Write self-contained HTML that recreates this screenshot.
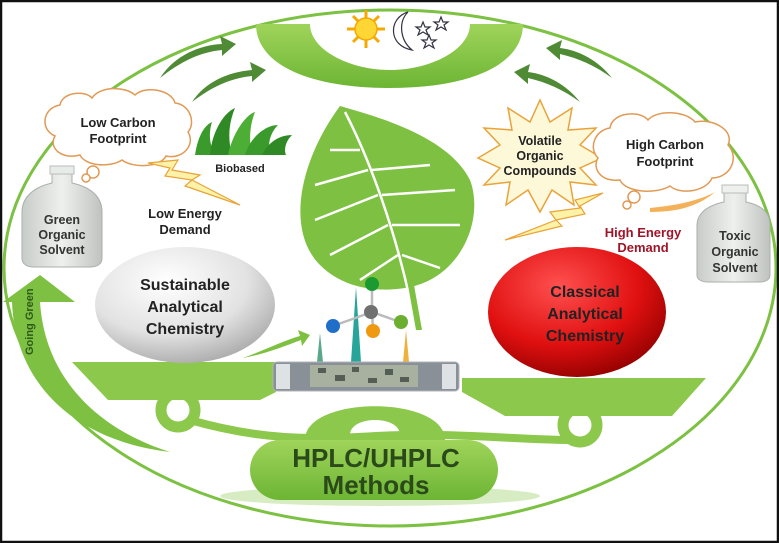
<!DOCTYPE html>
<html><head><meta charset="utf-8"><style>
html,body{margin:0;padding:0;background:#fff}
svg{display:block}
text{font-family:"Liberation Sans",sans-serif;font-weight:bold}
</style></head><body>
<svg width="779" height="543" viewBox="0 0 779 543" xmlns="http://www.w3.org/2000/svg">
<defs>
<radialGradient id="ws" cx="0.4" cy="0.3" r="0.75"><stop offset="0" stop-color="#ffffff"/><stop offset="0.6" stop-color="#e2e2e2"/><stop offset="1" stop-color="#a8a8a8"/></radialGradient>
<radialGradient id="rs" cx="0.4" cy="0.3" r="0.75"><stop offset="0" stop-color="#ff5050"/><stop offset="0.6" stop-color="#e01010"/><stop offset="1" stop-color="#900000"/></radialGradient>
<linearGradient id="gr" x1="0" y1="0" x2="0" y2="1"><stop offset="0" stop-color="#9fd45a"/><stop offset="1" stop-color="#6db534"/></linearGradient>
<linearGradient id="bt" x1="0" y1="0" x2="1" y2="0"><stop offset="0" stop-color="#c8ccc8"/><stop offset="0.5" stop-color="#eef0ee"/><stop offset="1" stop-color="#bfc3bf"/></linearGradient>
</defs>
<rect x="0" y="0" width="779" height="543" fill="#fff"/>
<!-- big ellipse -->
<ellipse cx="390" cy="268" rx="386" ry="258" fill="none" stroke="#7cc142" stroke-width="3"/>
<!-- top bowl -->
<path d="M256 24 L523 24 C523 65 470 88 390 88 C310 88 256 65 256 24 Z M310 24 C310 50 350 70 390 70 C430 70 470 50 470 24 Z" fill="url(#gr)" fill-rule="evenodd"/>
<!-- sun -->
<g transform="translate(366,29)">
<g stroke="#f5a800" stroke-width="3">
<line x1="-19" y1="0" x2="19" y2="0"/><line x1="0" y1="-19" x2="0" y2="19"/><line x1="-13" y1="-13" x2="13" y2="13"/><line x1="-13" y1="13" x2="13" y2="-13"/></g>
<circle r="11" fill="#ffd633" stroke="#f5a800" stroke-width="1.5"/></g>
<path d="M408 12 C388 18 388 46 412 50 C400 40 398 22 408 12 Z" fill="#fff" stroke="#334" stroke-width="1.2"/>
<g fill="none" stroke="#334" stroke-width="1.2">
<polygon points="423,22 425,27 430,27 426,30 428,35 423,32 418,35 420,30 416,27 421,27"/>
<polygon points="441,17 443,22 448,22 444,25 446,30 441,27 436,30 438,25 434,22 439,22"/>
<polygon points="429,35 431,40 436,40 432,43 434,48 429,45 424,48 426,43 422,40 427,40"/>
</g>
<!-- dark arrows -->
<g fill="#4f8a35">
<path d="M160 78 C175 55 200 45 222 44 L220 36 L236 44 L222 56 L222 50 C200 52 180 62 160 78 Z"/>
<path d="M192 102 C205 82 228 72 252 70 L250 62 L266 70 L252 82 L252 76 C230 78 210 88 192 102 Z"/>
<path d="M612 78 C598 60 578 50 560 48 L562 40 L546 48 L560 60 L560 54 C578 58 596 66 612 78 Z"/>
<path d="M580 102 C566 84 546 74 528 72 L530 64 L514 72 L528 84 L528 78 C546 82 564 90 580 102 Z"/>
</g>
<!-- low carbon cloud -->
<path d="M60 105 C62 92 85 90 92 98 C100 86 125 86 135 95 C145 85 172 90 175 103 C192 105 195 125 188 132 C196 145 182 160 166 156 C160 168 132 168 122 160 C110 168 85 166 80 155 C62 160 48 148 55 136 C40 130 42 108 60 105 Z" fill="#fff" stroke="#e09a55" stroke-width="1.5"/>
<circle cx="93" cy="172" r="6" fill="#fff" stroke="#e09a55" stroke-width="1.5"/>
<circle cx="86" cy="178" r="4" fill="#fff" stroke="#e09a55" stroke-width="1.5"/>
<text x="118" y="127" font-size="13" text-anchor="middle" fill="#222">Low Carbon</text>
<text x="118" y="143" font-size="13" text-anchor="middle" fill="#222">Footprint</text>
<!-- grass -->
<g fill="#3b9a2c">
<path d="M195 155 C198 135 205 125 212 122 C208 135 210 145 215 155 Z"/>
<path d="M210 155 C212 130 225 112 235 108 C228 125 228 140 232 155 Z" fill="#2f8a25"/>
<path d="M228 155 C232 135 245 115 255 112 C248 130 250 145 252 155 Z" fill="#4cae35"/>
<path d="M245 155 C250 138 265 125 278 125 C268 135 268 148 270 155 Z"/>
<path d="M262 155 C268 142 280 135 292 135 C285 142 284 150 286 155 Z" fill="#2f8a25"/>
</g>
<text x="240" y="172" font-size="11" text-anchor="middle" fill="#222">Biobased</text>
<!-- lightning left -->
<path d="M148 163 L178 160 L172 170 L200 175 L192 180 L240 205 L185 186 L192 180 L165 176 L170 168 Z" fill="#fdf3a8" stroke="#e9a33a" stroke-width="1.2"/>
<!-- green solvent bottle -->
<path d="M52 170 L72 170 L72 183 C95 188 102 200 102 212 L102 258 C102 265 96 267 90 267 L34 267 C28 267 22 265 22 258 L22 212 C22 200 30 188 52 183 Z" fill="url(#bt)" stroke="#aab0aa"/>
<rect x="50" y="166" width="24" height="8" fill="#e8ece8" stroke="#bbb"/>
<text x="62" y="224" font-size="12.5" text-anchor="middle" fill="#333">Green</text>
<text x="62" y="239" font-size="12.5" text-anchor="middle" fill="#333">Organic</text>
<text x="62" y="254" font-size="12.5" text-anchor="middle" fill="#333">Solvent</text>
<text x="185" y="218" font-size="13" text-anchor="middle" fill="#222">Low Energy</text>
<text x="185" y="234" font-size="13" text-anchor="middle" fill="#222">Demand</text>
<!-- leaf -->
<path d="M340 106 C300 160 285 230 320 265 C345 290 380 292 405 288 C460 280 485 220 470 180 C450 140 390 120 340 106 Z" fill="#7ec142"/>
<g stroke="#fff" stroke-width="2.5" fill="none">
<path d="M345 112 C370 160 395 230 410 300"/>
<path d="M360 150 L330 150 M368 170 L315 185 M378 195 L315 220 M388 225 L330 255 M398 255 L360 280"/>
<path d="M372 170 L430 165 M382 195 L455 190 M392 225 L460 225 M402 255 L440 268"/>
</g>
<path d="M408 285 L416 330 L422 330 L414 285 Z" fill="#7ec142"/>
<!-- starburst -->
<polygon points="540,100 550,122 572,108 568,130 596,128 580,145 602,158 580,168 596,185 570,182 574,205 552,190 540,212 528,190 506,205 510,182 484,185 500,168 478,158 500,145 484,128 512,130 508,108 530,122" fill="#fdf8d8" stroke="#e9a33a" stroke-width="1.5"/>
<text x="540" y="145" font-size="12.5" text-anchor="middle" fill="#222">Volatile</text>
<text x="540" y="160" font-size="12.5" text-anchor="middle" fill="#222">Organic</text>
<text x="540" y="175" font-size="12.5" text-anchor="middle" fill="#222">Compounds</text>
<!-- high carbon cloud -->
<path d="M610 128 C612 112 640 110 648 120 C656 110 685 110 695 122 C712 118 735 130 728 145 C740 158 730 178 712 178 C706 192 680 195 670 186 C655 195 625 192 620 180 C600 182 592 168 598 158 C588 148 595 130 610 128 Z" fill="#fff" stroke="#e09a55" stroke-width="1.5"/>
<circle cx="634" cy="197" r="6" fill="#fff" stroke="#e09a55" stroke-width="1.5"/>
<circle cx="627" cy="205" r="4" fill="#fff" stroke="#e09a55" stroke-width="1.5"/>
<text x="665" y="149" font-size="13" text-anchor="middle" fill="#222">High Carbon</text>
<text x="665" y="166" font-size="13" text-anchor="middle" fill="#222">Footprint</text>
<path d="M650 208 C680 205 700 200 715 192 C700 205 680 212 650 212 Z" fill="#f3b25a"/>
<!-- lightning right -->
<path d="M603 193 L575 200 L580 208 L550 212 L556 220 L505 240 L562 226 L556 220 L585 214 L580 206 Z" fill="#fdf3a8" stroke="#e9a33a" stroke-width="1.2"/>
<text x="643" y="237" font-size="13" text-anchor="middle" fill="#a01428">High Energy</text>
<text x="643" y="252" font-size="13" text-anchor="middle" fill="#a01428">Demand</text>
<!-- toxic bottle -->
<path d="M724 190 L746 190 L746 202 C765 206 770 215 770 225 L770 275 C770 280 765 282 760 282 L708 282 C702 282 697 280 697 275 L697 225 C697 215 705 206 724 202 Z" fill="url(#bt)" stroke="#aab0aa"/>
<rect x="722" y="185" width="26" height="8" fill="#eef0ee" stroke="#bbb"/>
<text x="735" y="240" font-size="12.5" text-anchor="middle" fill="#333">Toxic</text>
<text x="735" y="256" font-size="12.5" text-anchor="middle" fill="#333">Organic</text>
<text x="735" y="272" font-size="12.5" text-anchor="middle" fill="#333">Solvent</text>
<!-- going green arrow -->
<path d="M170 452 C100 430 45 380 40 302 L75 302 L40 275 L3 302 L12 302 C15 380 70 440 170 452 Z" fill="#7ec142"/>
<text transform="translate(33,355) rotate(-90)" font-size="11" fill="#2d5a1a" font-weight="bold">Going Green</text>
<!-- balance -->
<path d="M72 362 L276 362 L276 392 L260 400 L108 400 Z" fill="#8cc84b"/>
<path d="M462 378 L706 378 L672 416 L505 416 L462 392 Z" fill="#8cc84b"/>
<circle cx="178" cy="410" r="17" fill="none" stroke="#8cc84b" stroke-width="11"/>
<circle cx="580" cy="425" r="17" fill="none" stroke="#8cc84b" stroke-width="11"/>
<path d="M190 420 C260 440 310 440 376 436 C450 432 520 440 570 440" fill="none" stroke="#8cc84b" stroke-width="8"/>
<path d="M305 440 C305 395 445 395 445 440 Z M350 435 C350 415 400 415 400 435 Z" fill="#8cc84b" fill-rule="evenodd"/>
<!-- hplc pill -->
<ellipse cx="380" cy="496" rx="160" ry="10" fill="#d8ecc4"/>
<rect x="250" y="440" width="248" height="60" rx="30" fill="url(#gr)"/>
<text x="376" y="467" font-size="26" text-anchor="middle" fill="#2b4a1a">HPLC/UHPLC</text>
<text x="376" y="494" font-size="26" text-anchor="middle" fill="#2b4a1a">Methods</text>
<!-- green arrow toward column -->
<path d="M243 358 C265 350 285 340 300 336 L298 330 L310 335 L302 346 L301 340 C285 346 265 354 243 358 Z" fill="#7ec142"/>
<!-- peaks -->
<polygon points="317,362 320,333 323,362" fill="#5aa88a"/>
<polygon points="351,362 356,287 361,362" fill="#27a59a"/>
<polygon points="403,362 406,330 409,362" fill="#f0b040"/>
<!-- molecule -->
<g stroke="#bbb" stroke-width="2.5"><line x1="372" y1="312" x2="372" y2="284"/><line x1="372" y1="312" x2="333" y2="326"/><line x1="372" y1="312" x2="373" y2="330"/><line x1="372" y1="312" x2="400" y2="322"/></g>
<circle cx="372" cy="284" r="7" fill="#1a9a30"/>
<circle cx="371" cy="312" r="7" fill="#707070"/>
<circle cx="333" cy="326" r="7" fill="#1f6fc8"/>
<circle cx="373" cy="331" r="7" fill="#f09810"/>
<circle cx="401" cy="322" r="7" fill="#6cae30"/>
<!-- column -->
<rect x="273" y="362" width="186" height="29" rx="4" fill="#8a9098" stroke="#b0b4b8"/>
<rect x="276" y="364" width="14" height="25" fill="#dfe2e5"/>
<rect x="442" y="364" width="14" height="25" fill="#dfe2e5"/>
<rect x="310" y="365" width="108" height="22" fill="#a8b0a0"/>
<g fill="#555e55"><rect x="318" y="368" width="8" height="5"/><rect x="335" y="375" width="10" height="6"/><rect x="352" y="367" width="7" height="5"/><rect x="368" y="378" width="9" height="5"/><rect x="385" y="369" width="8" height="6"/><rect x="400" y="377" width="9" height="5"/></g>
<!-- spheres -->
<ellipse cx="185" cy="305" rx="90" ry="58" fill="url(#ws)"/>
<text x="185" y="290" font-size="16" text-anchor="middle" fill="#222">Sustainable</text>
<text x="185" y="312" font-size="16" text-anchor="middle" fill="#222">Analytical</text>
<text x="185" y="334" font-size="16" text-anchor="middle" fill="#222">Chemistry</text>
<ellipse cx="577" cy="312" rx="89" ry="65" fill="url(#rs)"/>
<text x="585" y="297" font-size="16" text-anchor="middle" fill="#222">Classical</text>
<text x="585" y="319" font-size="16" text-anchor="middle" fill="#222">Analytical</text>
<text x="585" y="341" font-size="16" text-anchor="middle" fill="#222">Chemistry</text>
<!-- frame -->
<rect x="1" y="1" width="777" height="541" fill="none" stroke="#111" stroke-width="2.5"/>
</svg>
</body></html>
